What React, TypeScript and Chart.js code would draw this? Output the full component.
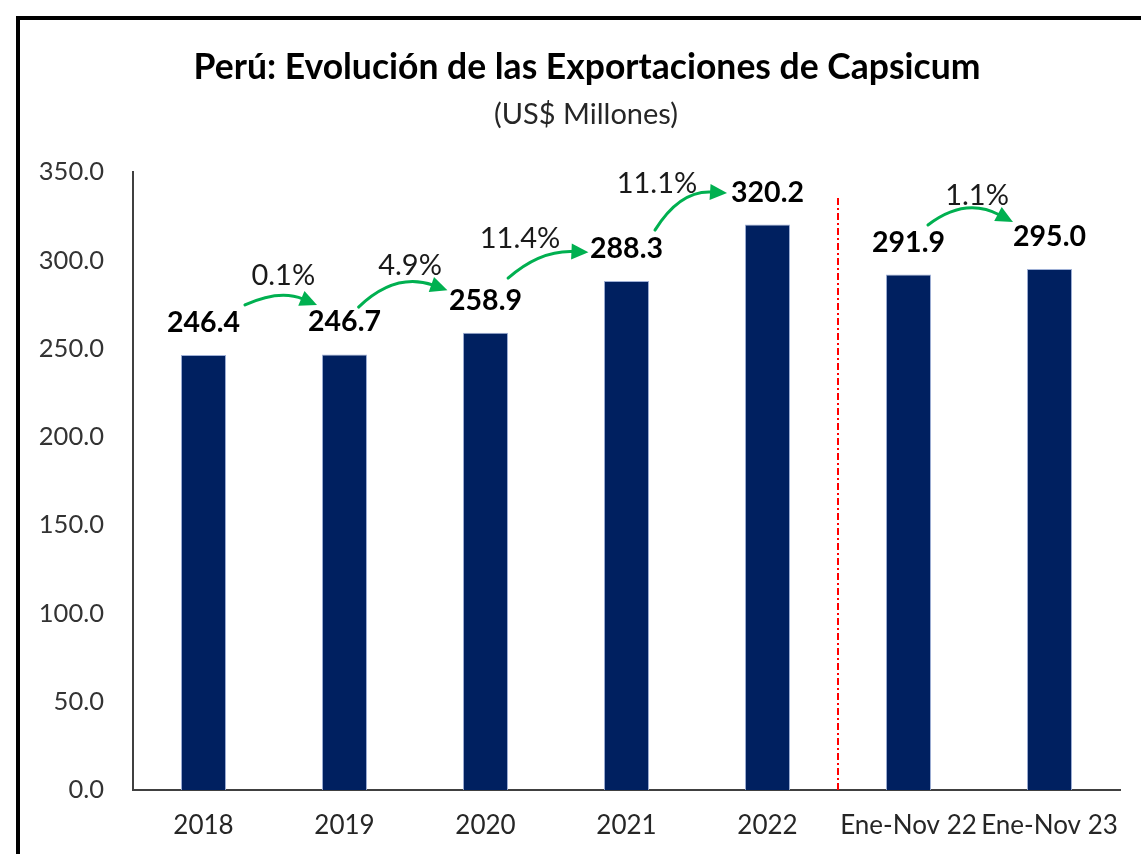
import { useEffect, useRef } from "react";
import { Chart, registerables } from "chart.js";

Chart.register(...registerables);

// ---- data ----
const categories = ["2018", "2019", "2020", "2021", "2022", "Ene-Nov 22", "Ene-Nov 23"];
const exportValues = [246.4, 246.7, 258.9, 288.3, 320.2, 291.9, 295.0];
const growthLabels = ["0.1%", "4.9%", "11.4%", "11.1%", "1.1%"];
const yMin = 0;
const yMax = 350;
const yStep = 50;
const titleText = "Perú: Evolución de las Exportaciones de Capsicum";
const subtitleText = "(US$ Millones)";

// ---- annotation geometry, in data coordinates (x: category index, y: value) ----
const arrowGeom = [
  { sx: 0.294, sy: 274.7, cx: 0.54, cy: 283.7, ex: 0.805, ey: 274.7, tx: 0.566, ty: 291.6 },
  { sx: 1.1, sy: 273.5, cx: 1.36, cy: 293.4, ex: 1.73, ey: 283.1, tx: 1.465, ty: 297.3 },
  { sx: 2.16, sy: 289.9, cx: 2.387, cy: 305.8, ex: 2.73, ey: 304.6, tx: 2.245, ty: 312.6 },
  { sx: 3.202, sy: 317.1, cx: 3.379, cy: 339.8, ex: 3.713, ey: 338.1, tx: 3.216, ty: 343.8 },
  { sx: 5.138, sy: 320.0, cx: 5.4, cy: 336.1, ex: 5.741, ey: 321.7, tx: 5.486, ty: 336.9 },
];
const dividerX = 4.5;
const dividerTop = 336;

const FONT = "Lato, 'Noto Sans', sans-serif";

const annotationsPlugin = {
  id: "annotations",
  afterDatasetsDraw(chart: any) {
    const ctx = chart.ctx;
    const xs = chart.scales.x;
    const ys = chart.scales.y;
    const px = (v: number) => {
      const a = xs.getPixelForValue(Math.floor(v));
      const b = xs.getPixelForValue(Math.floor(v) + 1);
      return a + (b - a) * (v - Math.floor(v));
    };
    const py = (v: number) => ys.getPixelForValue(v);

    ctx.save();
    // divider line
    ctx.strokeStyle = "#FF0000";
    ctx.lineWidth = 2;
    ctx.setLineDash([7, 3, 2, 3]);
    ctx.beginPath();
    ctx.moveTo(px(dividerX), py(0));
    ctx.lineTo(px(dividerX), py(dividerTop));
    ctx.stroke();
    ctx.setLineDash([]);

    // value labels
    const meta = chart.getDatasetMeta(0);
    ctx.fillStyle = "#000000";
    ctx.font = `bold 28.5px ${FONT}`;
    ctx.textAlign = "center";
    ctx.textBaseline = "alphabetic";
    meta.data.forEach((el: any, i: number) => {
      ctx.fillText(exportValues[i].toFixed(1), el.x, el.y - 23);
    });

    // growth arrows
    arrowGeom.forEach((g, i) => {
      const s = { x: px(g.sx), y: py(g.sy) };
      const c = { x: px(g.cx), y: py(g.cy) };
      const e = { x: px(g.ex), y: py(g.ey) };
      let dx = e.x - c.x;
      let dy = e.y - c.y;
      const len = Math.hypot(dx, dy) || 1;
      dx /= len;
      dy /= len;
      const headLen = 17;
      const headW = 8;
      const base = { x: e.x - dx * headLen, y: e.y - dy * headLen };
      ctx.strokeStyle = "#00B050";
      ctx.fillStyle = "#00B050";
      ctx.lineWidth = 3;
      ctx.lineCap = "round";
      ctx.beginPath();
      ctx.moveTo(s.x, s.y);
      ctx.quadraticCurveTo(c.x, c.y, base.x + dx * 2, base.y + dy * 2);
      ctx.stroke();
      ctx.beginPath();
      ctx.moveTo(e.x, e.y);
      ctx.lineTo(base.x - dy * headW, base.y + dx * headW);
      ctx.lineTo(base.x + dy * headW, base.y - dx * headW);
      ctx.closePath();
      ctx.fill();

      ctx.fillStyle = "#1a1a1a";
      ctx.font = `29px ${FONT}`;
      ctx.textAlign = "center";
      ctx.textBaseline = "alphabetic";
      ctx.fillText(growthLabels[i], px(g.tx), py(g.ty) + 10);
    });

    // title & subtitle
    ctx.fillStyle = "#000000";
    ctx.font = `bold 35.5px ${FONT}`;
    ctx.textAlign = "center";
    ctx.fillText(titleText, 587, 79);
    ctx.fillStyle = "#262626";
    ctx.font = `29px ${FONT}`;
    ctx.fillText(subtitleText, 586, 124);
    ctx.restore();
  },
};

export default function App() {
  const canvasRef = useRef<HTMLCanvasElement | null>(null);

  useEffect(() => {
    if (!canvasRef.current) return;
    const chart = new Chart(canvasRef.current, {
      type: "bar",
      data: {
        labels: categories,
        datasets: [
          {
            data: exportValues,
            backgroundColor: "#002060",
            borderColor: "#9fb0d6",
            borderWidth: 1,
            barPercentage: 0.32,
            categoryPercentage: 1,
          },
        ],
      },
      options: {
        animation: false,
        responsive: false,
        devicePixelRatio: 1,
        layout: { padding: { top: 172, left: 24, right: 21, bottom: 0 } },
        plugins: {
          legend: { display: false },
          title: { display: false },
          tooltip: { enabled: false },
        },
        scales: {
          x: {
            offset: true,
            grid: { display: false, drawTicks: false },
            border: { display: true, color: "#404040", width: 2 },
            ticks: {
              color: "#262626",
              font: { family: FONT, size: 26 },
              padding: 20,
              maxRotation: 0,
              autoSkip: false,
            },
            afterFit(scale: any) {
              scale.height = 64;
            },
          },
          y: {
            min: yMin,
            max: yMax,
            grid: { display: false, drawTicks: false },
            border: { display: true, color: "#404040", width: 2 },
            ticks: {
              stepSize: yStep,
              color: "#333333",
              font: { family: FONT, size: 25.5 },
              padding: 29,
              callback: (v: any) => Number(v).toFixed(1),
            },
            afterFit(scale: any) {
              scale.width = 109;
            },
          },
        },
      },
      plugins: [annotationsPlugin],
    });
    return () => chart.destroy();
  }, []);

  return (
    <div
      style={{
        position: "fixed",
        left: 0,
        top: 0,
        width: 1141,
        height: 854,
        overflow: "hidden",
        background: "#ffffff",
      }}
    >
      <div
        style={{
          position: "absolute",
          left: 16,
          top: 16,
          width: 1400,
          height: 1100,
          border: "4px solid #000000",
          boxSizing: "border-box",
        }}
      />
      <canvas
        ref={canvasRef}
        width={1141}
        height={854}
        style={{ position: "absolute", left: 0, top: 0, width: 1141, height: 854 }}
      />
    </div>
  );
}
